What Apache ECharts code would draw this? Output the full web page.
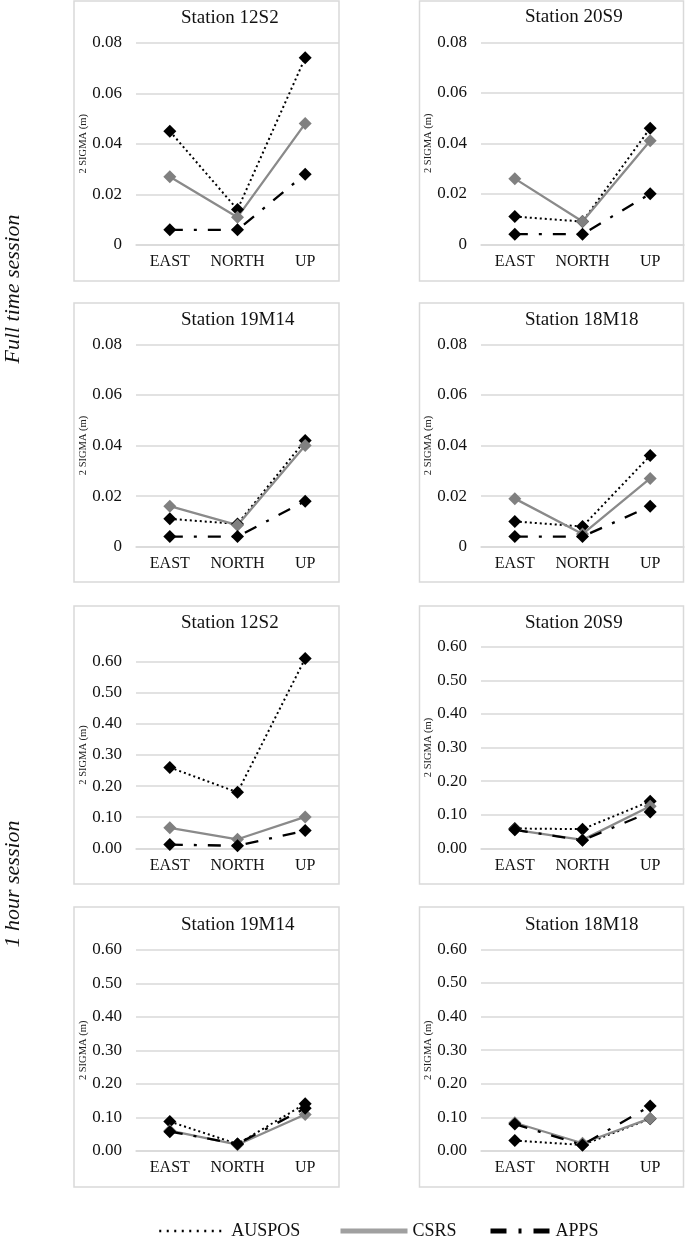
<!DOCTYPE html>
<html>
<head>
<meta charset="utf-8">
<script src="https://cdn.jsdelivr.net/npm/echarts@6/dist/echarts.min.js"></script>
<style>
html,body{margin:0;padding:0;background:#fff;}
#chart{width:685px;height:1241px;}
</style>
</head>
<body>
<div id="chart"></div>
<script>
// ---- data ----
const categories = ['EAST', 'NORTH', 'UP'];
const stations = ['Station 12S2', 'Station 20S9', 'Station 19M14', 'Station 18M18'];
const seriesNames = ['AUSPOS', 'CSRS', 'APPS'];
// Full time session (m), per station: [EAST, NORTH, UP]
const fullAUSPOS = [[0.045, 0.014, 0.074], [0.011, 0.009, 0.046], [0.011, 0.009, 0.042], [0.010, 0.008, 0.036]];
const fullCSRS   = [[0.027, 0.011, 0.048], [0.026, 0.009, 0.041], [0.016, 0.0085, 0.040], [0.019, 0.005, 0.027]];
const fullAPPS   = [[0.006, 0.006, 0.028], [0.004, 0.004, 0.020], [0.004, 0.004, 0.018], [0.004, 0.004, 0.016]];
// 1 hour session (m)
const hourAUSPOS = [[0.26, 0.18, 0.61], [0.059, 0.057, 0.14], [0.087, 0.020, 0.14], [0.031, 0.018, 0.096]];
const hourCSRS   = [[0.066, 0.029, 0.101], [0.055, 0.025, 0.125], [0.060, 0.018, 0.108], [0.084, 0.023, 0.097]];
const hourAPPS   = [[0.012, 0.008, 0.057], [0.055, 0.024, 0.108], [0.057, 0.020, 0.127], [0.080, 0.018, 0.134]];
// axis scales
const fullAxis = { min: 0, max: 0.08, interval: 0.02 };
const hourAxis = { min: 0, max: 0.6, interval: 0.1 };
const yAxisName = '2 SIGMA (m)';
const sessionLabels = ['Full time session', '1 hour session'];

// ---- layout ----
const FONT = '"Liberation Serif", "Times New Roman", serif';
const grids = [
  { left: 136, top: 42.7, width: 203, height: 202.3 },
  { left: 481, top: 42.3, width: 203, height: 202 },
  { left: 136, top: 344.3, width: 203, height: 202.4 },
  { left: 481, top: 344.3, width: 203, height: 202.4 },
  { left: 136, top: 661.7, width: 203, height: 186.6 },
  { left: 481, top: 646.7, width: 203, height: 201.6 },
  { left: 136, top: 950, width: 203, height: 200.7 },
  { left: 481, top: 949.3, width: 203, height: 201.7 }
];
const boxes = [
  [74, 1, 265, 280], [419.5, 1, 264, 280],
  [74, 303, 265, 279], [419.5, 303, 264, 279],
  [74, 606, 265, 278], [419.5, 606, 264, 278],
  [74, 907, 265, 280], [419.5, 907, 264, 280]
];
const titlePos = [[181, 18], [525, 17], [181, 320], [525, 320], [181, 623], [525, 623], [181, 925], [525, 925]];
const nameGaps = [32, 38, 38, 38, 40, 38, 40, 38];

const styles = {
  AUSPOS: { line: { color: '#000', width: 2, type: [2, 3] }, mark: '#000' },
  CSRS:   { line: { color: '#8a8a8a', width: 2.3, type: 'solid' }, mark: '#808080' },
  APPS:   { line: { color: '#000', width: 2.3, type: [13, 11, 3, 11] }, mark: '#000' }
};

const xAxes = [], yAxes = [], series = [], graphics = [];
for (let i = 0; i < 8; i++) {
  const isFull = i < 4;
  const s = i % 4;
  const ax = isFull ? fullAxis : hourAxis;
  xAxes.push({
    type: 'category', gridIndex: i, data: categories, boundaryGap: true,
    axisLine: { show: true, lineStyle: { color: '#d9d9d9', width: 1.5 } },
    axisTick: { show: false },
    axisLabel: { color: '#111', fontFamily: FONT, fontSize: 16, margin: 9, interval: 0, hideOverlap: false }
  });
  yAxes.push({
    type: 'value', gridIndex: i, min: ax.min, max: ax.max, interval: ax.interval,
    name: yAxisName, nameLocation: 'middle', nameRotate: 90, nameGap: nameGaps[i],
    nameTextStyle: { color: '#222', fontFamily: FONT, fontSize: 10.5 },
    axisLine: { show: false }, axisTick: { show: false },
    splitLine: { lineStyle: { color: '#d9d9d9', width: 1.5 } },
    axisLabel: {
      color: '#111', fontFamily: FONT, fontSize: 17, margin: 14,
      formatter: v => (isFull && v === 0) ? '0' : v.toFixed(2)
    }
  });
  const vals = {
    AUSPOS: (isFull ? fullAUSPOS : hourAUSPOS)[s],
    CSRS: (isFull ? fullCSRS : hourCSRS)[s],
    APPS: (isFull ? fullAPPS : hourAPPS)[s]
  };
  seriesNames.forEach(n => {
    series.push({
      name: n, type: 'line', xAxisIndex: i, yAxisIndex: i, data: vals[n],
      symbol: 'diamond', symbolSize: 13, showSymbol: true, clip: false,
      lineStyle: styles[n].line,
      itemStyle: { color: styles[n].mark },
      emphasis: { disabled: true }, animation: false
    });
  });
  const b = boxes[i];
  graphics.push({
    type: 'rect', shape: { x: b[0], y: b[1], width: b[2], height: b[3] },
    style: { fill: 'none', stroke: '#d9d9d9', lineWidth: 1.5 }, silent: true, z: -1
  });
  graphics.push({
    type: 'text', x: titlePos[i][0], y: titlePos[i][1],
    style: { text: stations[s], font: '19px ' + FONT, fill: '#111', textAlign: 'left', textVerticalAlign: 'middle' }
  });
}
graphics.push({
  type: 'text', x: 13, y: 289, rotation: Math.PI / 2,
  style: { text: sessionLabels[0], font: 'italic 22px ' + FONT, fill: '#111', textAlign: 'center', textVerticalAlign: 'middle' }
});
graphics.push({
  type: 'text', x: 13, y: 884, rotation: Math.PI / 2,
  style: { text: sessionLabels[1], font: 'italic 22px ' + FONT, fill: '#111', textAlign: 'center', textVerticalAlign: 'middle' }
});

const legendDefs = [
  { name: 'AUSPOS', left: 153, width: 67, line: { color: '#000', width: 2.5, type: [2, 5.5] } },
  { name: 'CSRS', left: 333, width: 67, line: { color: '#a0a0a0', width: 5, type: 'solid' } },
  { name: 'APPS', left: 483, width: 60, line: { color: '#000', width: 5, type: [16, 12, 3, 12] } }
];
const legends = legendDefs.map(d => ({
  data: [d.name], left: d.left, top: 1217, orient: 'horizontal',
  itemWidth: d.width, itemHeight: 14, itemGap: 0, selectedMode: false,
  itemStyle: { opacity: 0 },
  lineStyle: d.line,
  textStyle: { color: '#111', fontFamily: FONT, fontSize: 18 }
}));

const chart = echarts.init(document.getElementById('chart'), null, { renderer: 'canvas' });
chart.setOption({
  backgroundColor: '#fff',
  animation: false,
  grid: grids.map(g => Object.assign({ containLabel: false }, g)),
  xAxis: xAxes,
  yAxis: yAxes,
  legend: legends,
  series: series,
  graphic: graphics
});
</script>
</body>
</html>
